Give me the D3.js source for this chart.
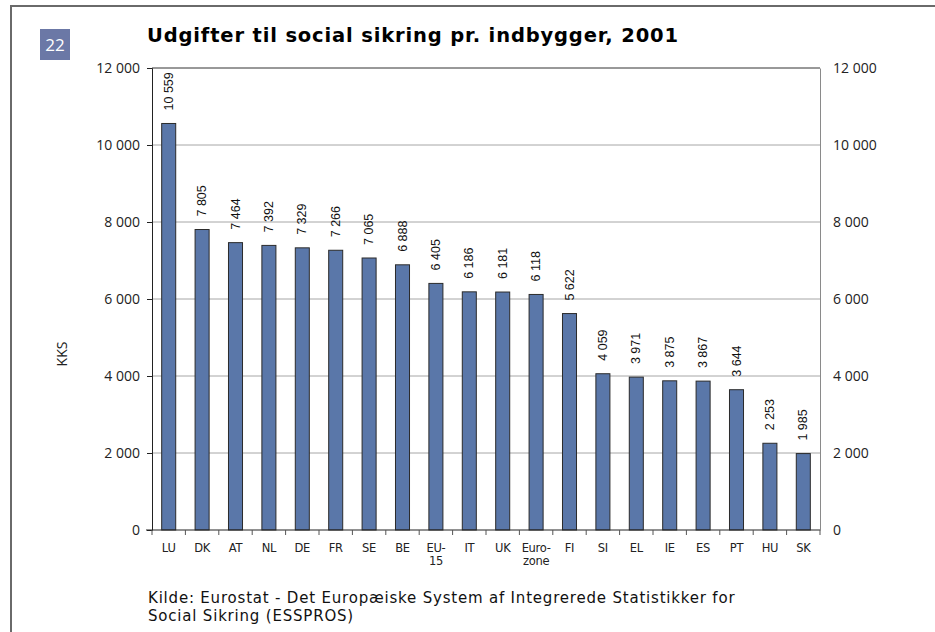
<!DOCTYPE html>
<html>
<head>
<meta charset="utf-8">
<script src="https://cdn.jsdelivr.net/npm/d3@7"></script>
<style>
  body { margin: 0; background: #fff; }
  svg { display: block; }
</style>
</head>
<body>
<div id="chart"></div>
<script>
// data
const categories = ["LU", "DK", "AT", "NL", "DE", "FR", "SE", "BE", "EU-15", "IT", "UK", "Euro-zone", "FI", "SI", "EL", "IE", "ES", "PT", "HU", "SK"];
const catLines = [["LU"], ["DK"], ["AT"], ["NL"], ["DE"], ["FR"], ["SE"], ["BE"], ["EU-", "15"], ["IT"], ["UK"], ["Euro-", "zone"], ["FI"], ["SI"], ["EL"], ["IE"], ["ES"], ["PT"], ["HU"], ["SK"]];
const values = [10559, 7805, 7464, 7392, 7329, 7266, 7065, 6888, 6405, 6186, 6181, 6118, 5622, 4059, 3971, 3875, 3867, 3644, 2253, 1985];
const yTicks = [0, 2000, 4000, 6000, 8000, 10000, 12000];

const W = 935, H = 632;
const plotL = 152, plotR = 820, plotT = 68, plotB = 530;

const svg = d3.select("#chart").append("svg")
    .attr("width", W)
    .attr("height", H);

const fmt = v => d3.format(",")(v).replace(/,/g, " ");

const x = d3.scaleBand()
    .domain(categories)
    .range([plotL, plotR])
    .paddingInner(0.58)
    .paddingOuter(0.29);

const y = d3.scaleLinear()
    .domain([0, 12000])
    .range([plotB, plotT]);

// page frame
svg.append("line").attr("x1", 11).attr("x2", W).attr("y1", 6).attr("y2", 6)
    .attr("stroke", "#6a6a6a").attr("stroke-width", 2);
svg.append("line").attr("x1", 11).attr("x2", 11).attr("y1", 5).attr("y2", H)
    .attr("stroke", "#6a6a6a").attr("stroke-width", 2);

// page number badge
svg.append("rect").attr("x", 40).attr("y", 29).attr("width", 30).attr("height", 31)
    .attr("fill", "#6b78a6");
svg.append("text").attr("x", 55).attr("y", 51)
    .attr("text-anchor", "middle")
    .attr("font-family", "Open Sans, sans-serif")
    .attr("font-size", 17)
    .attr("fill", "#fff")
    .text("22");

// title
svg.append("text").attr("x", 147).attr("y", 42)
    .attr("font-family", "DejaVu Sans, Verdana, sans-serif")
    .attr("font-weight", "bold")
    .attr("font-size", 19.5)
    .attr("letter-spacing", 0.85)
    .attr("fill", "#000")
    .text("Udgifter til social sikring pr. indbygger, 2001");

// gridlines
svg.append("g").selectAll("line")
    .data(yTicks.filter(d => d > 0 && d < 12000))
    .enter().append("line")
    .attr("x1", plotL).attr("x2", plotR)
    .attr("y1", d => y(d)).attr("y2", d => y(d))
    .attr("stroke", "#a6a6a6").attr("stroke-width", 1);

// top border of plot
svg.append("line").attr("x1", plotL).attr("x2", plotR)
    .attr("y1", y(12000)).attr("y2", y(12000))
    .attr("stroke", "#333").attr("stroke-width", 1);

// bars
svg.append("g").selectAll("rect")
    .data(values)
    .enter().append("rect")
    .attr("x", (d, i) => x(categories[i]))
    .attr("y", d => y(d))
    .attr("width", x.bandwidth())
    .attr("height", d => y(0) - y(d))
    .attr("fill", "#5a77a9")
    .attr("stroke", "#2b2b2b")
    .attr("stroke-width", 1);

// value labels
svg.append("g").selectAll("text")
    .data(values)
    .enter().append("text")
    .attr("transform", (d, i) => `translate(${x(categories[i]) + x.bandwidth() / 2 + 4},${y(d) - 13}) rotate(-90)`)
    .attr("font-family", "Liberation Sans, Arial, sans-serif")
    .attr("font-size", 12.5)
    .attr("fill", "#111")
    .text(d => fmt(d));

// left axis
const yAxisL = d3.axisLeft(y).tickValues(yTicks).tickSize(5).tickPadding(7).tickFormat(fmt);
const gL = svg.append("g").attr("transform", `translate(${plotL},0)`).call(yAxisL);
gL.select(".domain").attr("stroke", "#222");
gL.selectAll(".tick line").attr("stroke", "#222");
gL.selectAll("text")
    .attr("font-family", "Open Sans, sans-serif")
    .attr("font-size", 14)
    .attr("fill", "#222");

// right axis
const yAxisR = d3.axisRight(y).tickValues(yTicks).tickSize(0).tickPadding(13).tickFormat(fmt);
const gR = svg.append("g").attr("transform", `translate(${plotR},0)`).call(yAxisR);
gR.select(".domain").attr("stroke", "#8a8a8a");
gR.selectAll("text")
    .attr("font-family", "Open Sans, sans-serif")
    .attr("font-size", 14)
    .attr("fill", "#222");

// bottom axis with ticks between categories
svg.append("line").attr("x1", plotL - 6).attr("x2", plotR)
    .attr("y1", plotB).attr("y2", plotB)
    .attr("stroke", "#222");
const step = x.step();
svg.append("g").selectAll("line")
    .data(d3.range(categories.length + 1))
    .enter().append("line")
    .attr("x1", i => plotL + i * step).attr("x2", i => plotL + i * step)
    .attr("y1", plotB).attr("y2", plotB + 5)
    .attr("stroke", "#555");

// category labels
const catG = svg.append("g").selectAll("text")
    .data(categories)
    .enter().append("text")
    .attr("x", d => x(d) + x.bandwidth() / 2)
    .attr("y", plotB + 22)
    .attr("text-anchor", "middle")
    .attr("font-family", "DejaVu Sans, Verdana, sans-serif")
    .attr("font-size", 11.5)
    .attr("letter-spacing", -0.3)
    .attr("fill", "#222");
catG.each(function (d, i) {
    const t = d3.select(this);
    catLines[i].forEach((s, k) => {
        t.append("tspan")
            .attr("x", x(d) + x.bandwidth() / 2)
            .attr("dy", k === 0 ? 0 : 13)
            .text(s);
    });
});

// y axis title
svg.append("text")
    .attr("transform", "translate(67,354) rotate(-90)")
    .attr("text-anchor", "middle")
    .attr("font-family", "Open Sans, sans-serif")
    .attr("font-size", 14)
    .attr("fill", "#222")
    .text("KKS");

// source note
const src = svg.append("text")
    .attr("font-family", "DejaVu Sans, Verdana, sans-serif")
    .attr("font-size", 15)
    .attr("letter-spacing", 0.8)
    .attr("fill", "#111");
src.append("tspan").attr("x", 148).attr("y", 603)
    .text("Kilde: Eurostat - Det Europæiske System af Integrerede Statistikker for");
src.append("tspan").attr("x", 148).attr("y", 621)
    .text("Social Sikring (ESSPROS)");
</script>
</body>
</html>
